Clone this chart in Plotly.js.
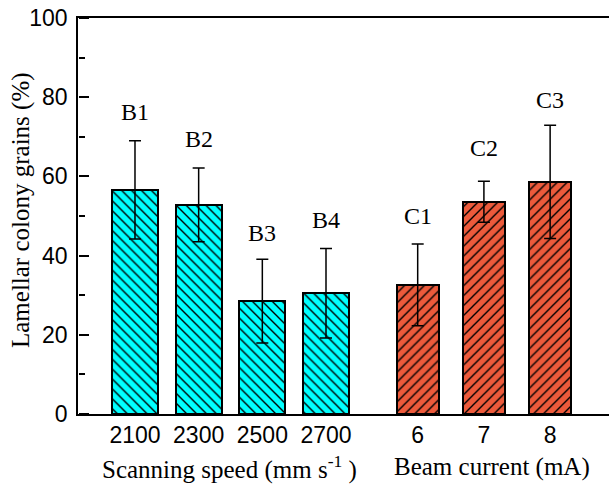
<!DOCTYPE html>
<html>
<head>
<meta charset="utf-8">
<script src="https://cdn.plot.ly/plotly-3.0.1.min.js"></script>
<style>
html,body{margin:0;padding:0;overflow:hidden;background:#fff;}
#chart{width:612px;height:487px;}
</style>
</head>
<body>
<div id="chart"></div>
<script>
// Data
const speedLabels = ['2100', '2300', '2500', '2700'];
const currentLabels = ['6', '7', '8'];
const speedValues = [56.6, 52.8, 28.5, 30.5];
const speedErrors = [12.4, 9.3, 10.6, 11.3];
const currentValues = [32.6, 53.6, 58.6];
const currentErrors = [10.3, 5.2, 14.3];
const speedNames = ['B1', 'B2', 'B3', 'B4'];
const currentNames = ['C1', 'C2', 'C3'];
const yTicks = [0, 20, 40, 60, 80, 100];
const yMinorTicks = [10, 30, 50, 70, 90];

// Layout constants (positions)
const speedX = [1, 2, 3, 4];
const currentX = [5.44, 6.48, 7.52];
const speedLabelY = [76.3, 69.4, 45.7, 49.0];
const currentLabelY = [50.0, 67.2, 79.3];

const serif = 'Liberation Serif, Times New Roman, serif';
const sans = 'Liberation Sans, Arial, sans-serif';

const traces = [
  {
    type: 'bar', x: speedX, y: speedValues, width: 0.72,
    error_y: {type: 'data', array: speedErrors, visible: true, color: '#000', thickness: 1.5, width: 6},
    marker: {color: '#00FFFF', line: {color: '#000', width: 2},
      pattern: {shape: '\\', fgcolor: '#000', bgcolor: '#00FFFF', size: 7, solidity: 0.2}},
    showlegend: false, hoverinfo: 'y'
  },
  {
    type: 'bar', x: currentX, y: currentValues, width: 0.66,
    error_y: {type: 'data', array: currentErrors, visible: true, color: '#000', thickness: 1.5, width: 6},
    marker: {color: '#EC5A3B', line: {color: '#000', width: 2},
      pattern: {shape: '/', fgcolor: '#000', bgcolor: '#EC5A3B', size: 7, solidity: 0.2}},
    showlegend: false, hoverinfo: 'y'
  },
  // empty helper trace so the tick-only axis is drawn
  {type: 'scatter', x: [], y: [], yaxis: 'y2', showlegend: false, hoverinfo: 'skip'}
];

const annotations = [];
speedNames.forEach((n, i) => annotations.push({x: speedX[i], y: speedLabelY[i], xref: 'x', yref: 'y', text: n, showarrow: false, yanchor: 'middle', font: {family: serif, size: 24, color: '#000'}}));
currentNames.forEach((n, i) => annotations.push({x: currentX[i], y: currentLabelY[i], xref: 'x', yref: 'y', text: n, showarrow: false, yanchor: 'middle', font: {family: serif, size: 24, color: '#000'}}));
annotations.push({x: 2.48, y: -0.134, xref: 'x', yref: 'paper', text: 'Scanning speed (mm s<sup>-1</sup> )', showarrow: false, yanchor: 'middle', font: {family: serif, size: 25, color: '#000'}});
annotations.push({x: 6.6, y: -0.134, xref: 'x', yref: 'paper', text: 'Beam current (mA)', showarrow: false, yanchor: 'middle', font: {family: serif, size: 25, color: '#000'}});
annotations.push({x: -0.107, y: 0.515, xref: 'paper', yref: 'paper', text: 'Lamellar colony grains (%)', textangle: -90, showarrow: false, xanchor: 'center', yanchor: 'middle', font: {family: serif, size: 25, color: '#000'}});

const layout = {
  width: 612, height: 487,
  margin: {l: 78, r: 1, t: 18, b: 73},
  paper_bgcolor: '#fff', plot_bgcolor: '#fff',
  bargap: 0,
  xaxis: {
    range: [0.105, 8.476], tickmode: 'array', tickvals: speedX.concat(currentX), ticktext: speedLabels.concat(currentLabels),
    ticks: '', showgrid: false, zeroline: false, showline: true, linecolor: '#000', linewidth: 1.5, mirror: true,
    tickfont: {family: sans, size: 23, color: '#000'}
  },
  yaxis: {
    range: [0, 100], tickmode: 'array', tickvals: yTicks, ticks: '',
    showgrid: false, zeroline: false, showline: true, linecolor: '#000', linewidth: 1.5, mirror: true,
    tickfont: {family: sans, size: 23, color: '#000'}, ticklabelstandoff: 4
  },
  yaxis2: {
    overlaying: 'y', side: 'right', anchor: 'free', position: 0, range: [0, 100],
    tickmode: 'array', tickvals: yTicks, ticks: 'outside', ticklen: 10, tickwidth: 2, tickcolor: '#000',
    minor: {tickmode: 'array', tickvals: yMinorTicks, ticks: 'outside', ticklen: 6, tickwidth: 2, tickcolor: '#000', showgrid: false},
    showticklabels: false, showgrid: false, zeroline: false, showline: false
  },
  annotations: annotations
};

Plotly.newPlot('chart', traces, layout, {displayModeBar: false});
</script>
</body>
</html>
